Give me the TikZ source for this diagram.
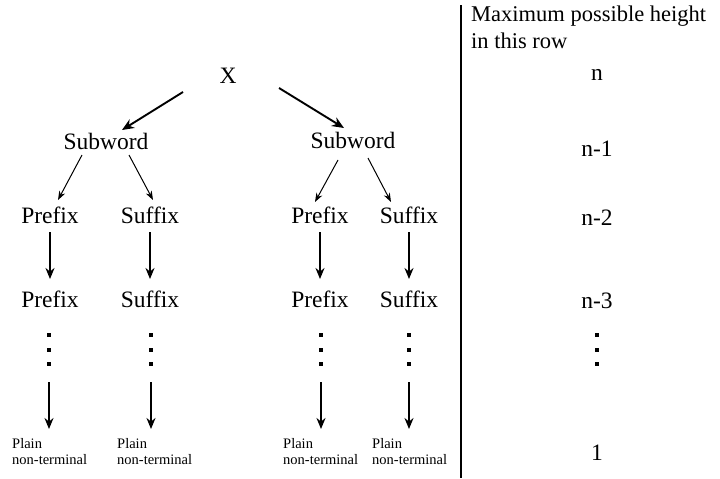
\documentclass[tikz,border=0pt]{standalone}
\usepackage{fontspec}
\setmainfont{Liberation Serif}
\usetikzlibrary{arrows.meta,calc}
\tikzset{
  lbl/.style={font=\fontsize{23.5}{27}\selectfont, inner sep=0pt, anchor=base},
  smalllbl/.style={font=\fontsize{14.5}{16}\selectfont, inner sep=0pt, align=left, anchor=north west},
  hdrlbl/.style={font=\fontsize{22.5}{27}\selectfont, inner sep=0pt, align=left, anchor=north west},
  toparrow/.style={line width=1.9pt, -{Stealth[length=12pt,width=10pt]}},
  thinarrow/.style={line width=1pt, -{Stealth[length=9pt,width=6.5pt]}},
  bigarrow/.style={line width=1.8pt, -{Stealth[length=11pt,width=9pt]}},
}
\newcommand\dotcolumn[1]{%
  \foreach \dy in {-15,0,14}{\fill ($(#1)+(-1.8,\dy-1.8)$) rectangle ++(3.6,3.6);}}
\begin{document}
\begin{tikzpicture}[x=1pt,y=-1pt]
\useasboundingbox (0,0) rectangle (720,479);
% tree labels
\node[lbl] (X) at (228,83) {X};
\node[lbl] (sw1) at (106,149) {Subword};
\node[lbl] (sw2) at (353,148) {Subword};
\node[lbl] (p1) at (50,223) {Prefix};
\node[lbl] (s1) at (150,223) {Suffix};
\node[lbl] (p2) at (320,223) {Prefix};
\node[lbl] (s2) at (409,223) {Suffix};
\node[lbl] (p1b) at (50,307) {Prefix};
\node[lbl] (s1b) at (150,307) {Suffix};
\node[lbl] (p2b) at (320,307) {Prefix};
\node[lbl] (s2b) at (409,307) {Suffix};
\coordinate (d1) at (49,350);
\coordinate (d2) at (151,350);
\coordinate (d3) at (321,350);
\coordinate (d4) at (409,350);
\node[smalllbl] (pl1) at (12,438) {Plain\\non-terminal};
\node[smalllbl] (pl2) at (117,438) {Plain\\non-terminal};
\node[smalllbl] (pl3) at (283,438) {Plain\\non-terminal};
\node[smalllbl] (pl4) at (372,438) {Plain\\non-terminal};
% right column
\draw[line width=1.2pt] (461,5) -- (461,478);
\node[hdrlbl] (hdr) at (471,5.5) {Maximum possible height\\in this row};
\node[lbl] (h0) at (597,80) {n};
\node[lbl] (h1) at (597,156) {n-1};
\node[lbl] (h2) at (597,225) {n-2};
\node[lbl] (h3) at (597,308) {n-3};
\coordinate (dr) at (597,350);
\node[lbl] (h4) at (597,460) {1};
% dots
\dotcolumn{d1}\dotcolumn{d2}\dotcolumn{d3}\dotcolumn{d4}\dotcolumn{dr}
% arrows
\draw[toparrow] ($(X.base)+(-45,9)$) -- ($(sw1.base)+(16,-19)$);
\draw[toparrow] ($(X.base)+(51,5)$) -- ($(sw2.base)+(-9,-20)$);
\draw[thinarrow] ($(sw1.base)+(-24,6)$) -- ($(p1.base)+(8,-23)$);
\draw[thinarrow] ($(sw1.base)+(23,6)$) -- ($(s1.base)+(3,-23)$);
\draw[thinarrow] ($(sw2.base)+(-15,12)$) -- ($(p2.base)+(-5,-21)$);
\draw[thinarrow] ($(sw2.base)+(15,10)$) -- ($(s2.base)+(-18,-21)$);
\foreach \a/\b in {p1/p1b,s1/s1b,p2/p2b,s2/s2b}{
  \draw[bigarrow] ($(\a.base)+(0,9)$) -- ($(\b.base)+(0,-28)$);}
\foreach \d/\p in {d1/pl1,d2/pl2,d3/pl3,d4/pl4}{
  \draw[bigarrow, shorten >=9pt] ($(\d)+(0,32)$) -- (\d |- \p.north);}
\end{tikzpicture}
\end{document}
